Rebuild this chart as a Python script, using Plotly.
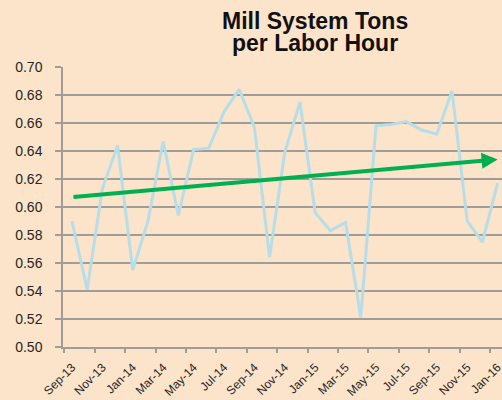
import plotly.graph_objects as go

months = ["Sep-13", "Oct-13", "Nov-13", "Dec-13", "Jan-14", "Feb-14", "Mar-14", "Apr-14",
          "May-14", "Jun-14", "Jul-14", "Aug-14", "Sep-14", "Oct-14", "Nov-14", "Dec-14",
          "Jan-15", "Feb-15", "Mar-15", "Apr-15", "May-15", "Jun-15", "Jul-15", "Aug-15",
          "Sep-15", "Oct-15", "Nov-15", "Dec-15", "Jan-16"]
tons_per_hour = [0.590, 0.541, 0.613, 0.644, 0.555, 0.590, 0.647, 0.594,
                 0.641, 0.642, 0.668, 0.684, 0.657, 0.564, 0.639, 0.675,
                 0.596, 0.583, 0.589, 0.521, 0.658, 0.659, 0.661, 0.655,
                 0.652, 0.683, 0.590, 0.575, 0.617]
trend_values = [0.607, 0.634]
y_ticks = [0.50, 0.52, 0.54, 0.56, 0.58, 0.60, 0.62, 0.64, 0.66, 0.68, 0.70]
title_lines = ["Mill System Tons", "per Labor Hour"]

idx = list(range(len(months)))
label_vals = idx[::2]
label_text = months[::2]
boundary_ticks = [i - 0.5 for i in idx[::2]]

BG = "#FCE4CA"
GRID = "#A09D99"
TXT = "#262626"
FONT = "Liberation Sans, Arial, sans-serif"
xr = [-0.59, 28.29]

fig = go.Figure()
fig.add_trace(go.Scatter(x=idx, y=tons_per_hour, mode="lines",
                         line=dict(color="#B7DEE8", width=3), hoverinfo="skip",
                         showlegend=False))
# invisible trace on overlay axis so boundary ticks render
fig.add_trace(go.Scatter(x=[idx[0]], y=[tons_per_hour[0]], xaxis="x2", mode="markers",
                         marker=dict(opacity=0), showlegend=False, hoverinfo="skip"))

fig.add_annotation(x=idx[-1], y=trend_values[1], ax=idx[0], ay=trend_values[0],
                   xref="x", yref="y", axref="x", ayref="y", text="",
                   showarrow=True, arrowhead=2, arrowsize=0.8, arrowwidth=4,
                   arrowcolor="#00B050")

# title lines (page y ~21 and ~43; plot top at 67, height 280)
for line, ypix in zip(title_lines, [21, 43]):
    fig.add_annotation(text=f"<b>{line}</b>", xref="paper", yref="paper",
                       x=(315 - 63) / 439, y=1 + (67 - ypix) / 280,
                       xanchor="center", yanchor="middle", showarrow=False,
                       font=dict(family=FONT, size=23, color="#111111"))

fig.update_layout(
    width=502, height=400,
    margin=dict(l=63, r=0, t=67, b=53, autoexpand=False),
    paper_bgcolor=BG, plot_bgcolor=BG,
    font=dict(family=FONT, color=TXT),
    xaxis=dict(range=xr, tickmode="array", tickvals=label_vals, ticktext=label_text,
               tickangle=-45, ticks="", showgrid=False, zeroline=False,
               showline=True, linecolor=GRID, linewidth=1.5, automargin=False,
               ticklabeloverflow="allow",
               tickfont=dict(size=12, color=TXT), ticklabelstandoff=7),
    xaxis2=dict(range=xr, overlaying="x", side="bottom", tickmode="array",
                tickvals=boundary_ticks, showticklabels=False, ticks="outside",
                ticklen=5, tickwidth=1.5, tickcolor=GRID, showgrid=False,
                zeroline=False, showline=False, automargin=False),
    yaxis=dict(range=[0.5, 0.7], tickmode="array", tickvals=y_ticks,
               ticktext=[f"{v:.2f}" for v in y_ticks], automargin=False,
               showgrid=True, gridcolor=GRID, gridwidth=1.5, zeroline=False,
               showline=True, linecolor=GRID, linewidth=1.5,
               ticks="outside", ticklen=6, tickwidth=1.5, tickcolor=GRID,
               tickfont=dict(size=14, color=TXT), ticklabelstandoff=10),
)

fig.write_html("out.html", config={"displayModeBar": False},
               post_script="document.body.style.margin='0';")
